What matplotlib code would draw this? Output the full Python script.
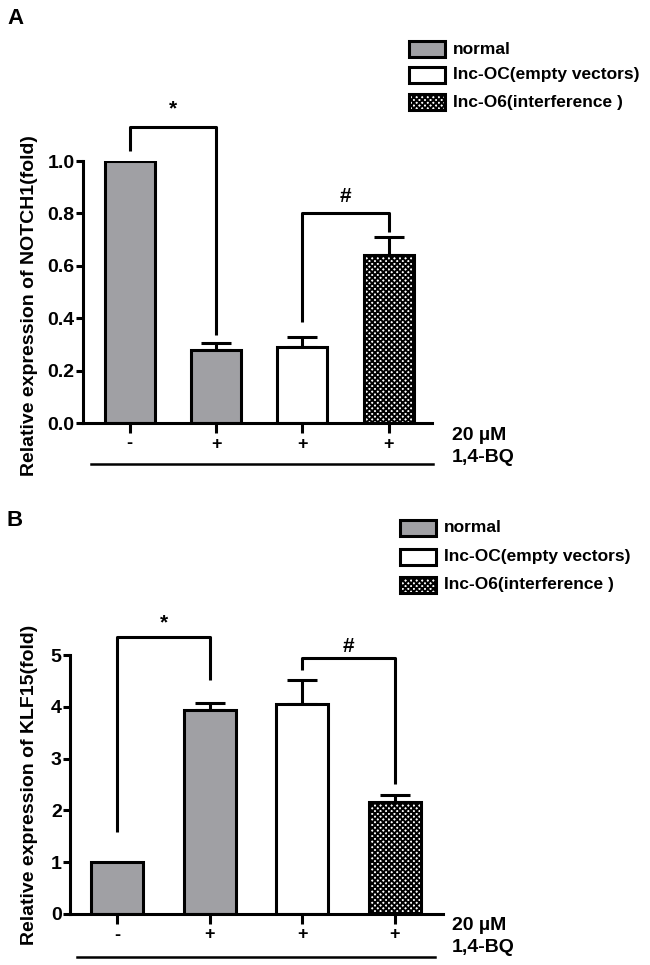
import numpy as np
import matplotlib.pyplot as plt
from matplotlib.patches import Rectangle
from matplotlib.lines import Line2D

plt.rcParams['font.family'] = ['Liberation Sans', 'DejaVu Sans']
plt.rcParams['font.weight'] = 'bold'
plt.rcParams['hatch.linewidth'] = 1.4

groups = ["normal", "Inc-OC(empty vectors)", "Inc-O6(interference )"]
treat_labels = ["-", "+", "+", "+"]
bar_group = [0, 0, 1, 2]

notch1_vals = [1.0, 0.279, 0.291, 0.641]
notch1_err = [0.0, 0.027, 0.037, 0.069]
klf15_vals = [1.0, 3.94, 4.05, 2.17]
klf15_err = [0.0, 0.13, 0.47, 0.13]

W, H = 650, 965
face = {0: "#a0a0a4", 1: "white", 2: "white"}
hatch = {0: None, 1: None, 2: "xxxxxx"}
LW = 2.2


def fx(px):
    return px / W


def fy(py):
    return 1 - py / H


def draw_panel(ax, vals, errs, width, ylim, yticks, ylabel):
    x = np.arange(len(vals))
    for i in range(len(vals)):
        g = bar_group[i]
        ax.bar(x[i], vals[i], width=width, color=face[g], edgecolor="black",
               linewidth=LW, hatch=hatch[g], zorder=2)
        if errs[i] > 0:
            ax.errorbar(x[i], vals[i], yerr=[[0], [errs[i]]], fmt="none",
                        ecolor="black", elinewidth=LW, capsize=11,
                        capthick=LW, zorder=1)
    ax.set_ylim(*ylim)
    ax.set_yticks(yticks)
    ax.set_xticks(x)
    ax.set_xticklabels(treat_labels, fontsize=13, fontweight="bold")
    for s in ["top", "right"]:
        ax.spines[s].set_visible(False)
    for s in ["left", "bottom"]:
        ax.spines[s].set_linewidth(LW)
    ax.tick_params(axis="y", length=5, width=LW, labelsize=14, pad=1)
    ax.tick_params(axis="x", length=7, width=LW, pad=2)
    ax.set_ylabel(ylabel, fontsize=14, fontweight="bold")


def bracket(ax, x0, x1, y0, y1, top, label, ly):
    ax.plot([x0, x0, x1, x1], [y0, top, top, y1], color="black", lw=LW,
            clip_on=False, solid_capstyle="butt")
    ax.text((x0 + x1) / 2, ly, label, ha="center", va="center",
            fontsize=15, fontweight="bold")


def legend(x, ys):
    for g, yy in zip(range(3), ys):
        fig.add_artist(Rectangle((fx(x), fy(yy + 8)), 36 / W, 16 / H,
                                 facecolor=face[g], edgecolor="black",
                                 linewidth=LW, hatch=hatch[g],
                                 transform=fig.transFigure))
        fig.text(fx(x + 44), fy(yy), groups[g], fontsize=12.5,
                 fontweight="bold", va="center", ha="left")


fig = plt.figure(figsize=(6.5, 9.65), dpi=100)

# panel A
axA = fig.add_axes([fx(83), fy(423), fx(432 - 83), (423 - 161) / H])
draw_panel(axA, notch1_vals, notch1_err, 0.58, (0, 1.0),
           [0.0, 0.2, 0.4, 0.6, 0.8, 1.0],
           "Relative expression of NOTCH1(fold)")
axA.set_yticklabels(["0.0", "0.2", "0.4", "0.6", "0.8", "1.0"])
axA.set_xlim(-0.54, 3.5)
axA.yaxis.set_label_coords(-0.13, 0.45)
bracket(axA, 0, 1, 1.04, 0.336, 1.13, "*", 1.2)
bracket(axA, 2, 3, 0.385, 0.73, 0.80, "#", 0.865)

# panel B
axB = fig.add_axes([fx(70), fy(914), fx(443 - 70), (914 - 655) / H])
draw_panel(axB, klf15_vals, klf15_err, 0.56, (0, 5), [0, 1, 2, 3, 4, 5],
           "Relative expression of KLF15(fold)")
axB.set_xlim(-0.51, 3.52)
axB.yaxis.set_label_coords(-0.085, 0.5)
bracket(axB, 0, 1, 1.59, 4.52, 5.34, "*", 5.62)
bracket(axB, 2, 3, 4.71, 2.51, 4.95, "#", 5.17)

# treatment annotation
for ytxt, yline, x0, x1 in [(435, 464, 91, 433), (926, 957, 77, 435)]:
    fig.text(fx(452), fy(ytxt), "20 µM", fontsize=14, fontweight="bold",
             va="center", ha="left")
    fig.text(fx(452), fy(ytxt + 22), "1,4-BQ", fontsize=14,
             fontweight="bold", va="center", ha="left")
    fig.add_artist(Line2D([fx(x0), fx(x1)], [fy(yline), fy(yline)],
                          color="black", lw=1.8, transform=fig.transFigure))

legend(409, [49, 75, 102])
legend(400, [528, 557, 585])

fig.text(fx(7), fy(18), "A", fontsize=16, fontweight="bold", va="center")
fig.text(fx(6), fy(520), "B", fontsize=16, fontweight="bold", va="center")

fig.savefig("out.png", dpi=100, facecolor="white")
